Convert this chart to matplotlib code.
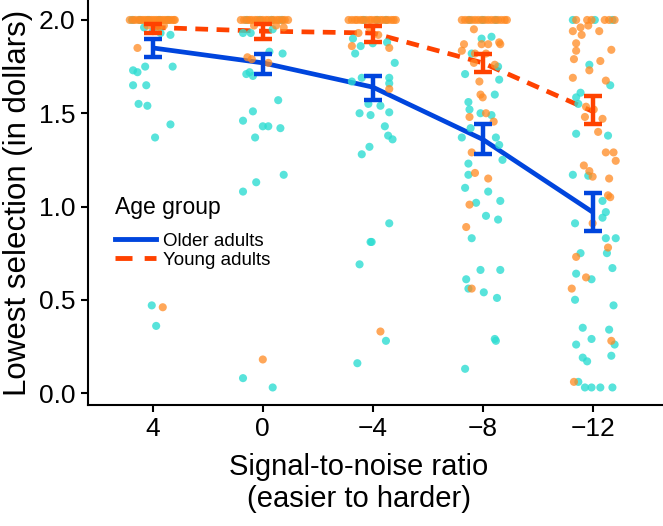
import matplotlib
matplotlib.use("Agg")
from matplotlib import pyplot as plt
from matplotlib.lines import Line2D
import numpy as np

plt.rcParams['font.family'] = ['Liberation Sans', 'DejaVu Sans']

snr_labels = ['4', '0', '\u22124', '\u22128', '\u221212']

# condition means and 95% interval ends
older_mean = [1.85, 1.77, 1.64, 1.36, 0.97]
older_lo = [1.80, 1.71, 1.57, 1.28, 0.87]
older_hi = [1.90, 1.82, 1.70, 1.44, 1.07]
young_mean = [1.96, 1.94, 1.93, 1.77, 1.51]
young_lo = [1.93, 1.90, 1.88, 1.72, 1.44]
young_hi = [1.98, 1.98, 1.97, 1.82, 1.59]

# individual participants: (jitter offset, value)
older_4 = [(-0.18, 1.73), (-0.14, 1.72), (-0.07, 1.75), (0.18, 1.75), (-0.18, 1.65),
           (-0.06, 1.65), (-0.13, 1.55), (-0.05, 1.54), (0.16, 1.44), (0.02, 1.37),
           (-0.01, 0.47), (0.03, 0.36), (-0.08, 1.96), (0.0, 1.94), (0.07, 1.93),
           (0.16, 1.92), (-0.19, 2.0), (-0.12, 2.0), (-0.04, 2.0), (0.06, 2.0), (0.14, 2.0)]
young_4 = [(-0.14, 1.85), (0.09, 0.46), (-0.05, 1.97), (0.05, 1.96), (0.10, 1.97),
           (-0.21, 2.0), (-0.18, 2.0), (-0.16, 2.0), (-0.13, 2.0), (-0.11, 2.0), (-0.09, 2.0),
           (-0.07, 2.0), (-0.05, 2.0), (-0.03, 2.0), (-0.01, 2.0), (0.01, 2.0), (0.03, 2.0),
           (0.05, 2.0), (0.07, 2.0), (0.09, 2.0), (0.11, 2.0), (0.13, 2.0), (0.15, 2.0),
           (0.17, 2.0), (0.19, 2.0), (0.20, 2.0)]

older_0 = [(-0.18, 1.93), (-0.11, 1.93), (0.09, 1.95), (0.06, 1.83), (0.18, 1.82),
           (-0.15, 1.71), (-0.12, 1.72), (-0.09, 1.70), (0.14, 1.57), (-0.09, 1.51),
           (-0.18, 1.46), (0.0, 1.43), (0.05, 1.43), (0.16, 1.42), (-0.07, 1.37),
           (0.19, 1.17), (-0.06, 1.13), (-0.18, 1.08), (-0.18, 0.08), (0.09, 0.03),
           (-0.15, 2.0), (-0.03, 2.0), (0.08, 2.0), (0.17, 2.0)]
young_0 = [(-0.14, 1.80), (-0.10, 1.79), (0.05, 1.77), (0.0, 0.18), (-0.08, 1.97),
           (0.12, 1.97), (0.19, 1.96),
           (-0.20, 2.0), (-0.17, 2.0), (-0.14, 2.0), (-0.12, 2.0), (-0.10, 2.0), (-0.07, 2.0),
           (-0.05, 2.0), (-0.02, 2.0), (0.0, 2.0), (0.03, 2.0), (0.05, 2.0), (0.08, 2.0),
           (0.10, 2.0), (0.13, 2.0), (0.15, 2.0), (0.18, 2.0), (0.20, 2.0), (0.23, 2.0)]

older_m4 = [(-0.18, 1.90), (-0.11, 1.86), (-0.16, 1.82), (0.0, 1.875), (0.13, 1.88),
            (0.20, 1.77), (-0.19, 1.67), (-0.10, 1.69), (0.15, 1.69), (0.15, 1.66),
            (-0.04, 1.55), (0.07, 1.54), (-0.12, 1.50), (-0.02, 1.49), (0.15, 1.505),
            (0.11, 1.43), (0.14, 1.38), (0.18, 1.36), (-0.03, 1.32), (-0.10, 1.28),
            (0.15, 0.91), (-0.02, 0.81), (-0.01, 0.81), (-0.12, 0.69), (0.12, 0.28),
            (-0.14, 0.16), (-0.08, 2.0), (0.04, 2.0), (0.12, 2.0)]
young_m4 = [(-0.19, 1.86), (0.15, 1.85), (0.15, 1.63), (0.07, 0.33), (-0.13, 1.93),
            (0.05, 1.92), (-0.03, 1.96),
            (-0.22, 2.0), (-0.19, 2.0), (-0.16, 2.0), (-0.14, 2.0), (-0.11, 2.0), (-0.09, 2.0),
            (-0.06, 2.0), (-0.03, 2.0), (-0.01, 2.0), (0.02, 2.0), (0.04, 2.0), (0.07, 2.0),
            (0.09, 2.0), (0.12, 2.0), (0.14, 2.0), (0.17, 2.0), (0.19, 2.0), (0.21, 2.0)]

older_m8 = [(-0.01, 1.90), (0.08, 1.91), (-0.10, 1.82), (-0.16, 1.71), (0.14, 1.75),
            (0.15, 1.68), (0.11, 1.60), (-0.13, 1.56), (-0.12, 1.52), (-0.02, 1.50),
            (0.08, 1.49), (-0.11, 1.42), (-0.19, 1.37), (0.12, 1.37), (0.15, 1.33),
            (0.18, 1.25), (-0.13, 1.23), (-0.13, 1.17), (-0.16, 1.10), (0.05, 1.08),
            (-0.06, 1.02), (0.16, 1.03), (0.03, 0.95), (0.14, 0.93), (-0.10, 0.83),
            (-0.02, 0.66), (0.16, 0.66), (-0.15, 0.61), (-0.13, 0.56), (0.01, 0.54),
            (0.13, 0.51), (0.11, 0.29), (0.12, 0.28), (-0.16, 0.13),
            (-0.12, 2.0), (0.0, 2.0), (0.12, 2.0)]
young_m8 = [(-0.08, 1.95), (-0.17, 1.87), (-0.19, 1.835), (-0.01, 1.87), (0.05, 1.87),
            (0.15, 1.88), (0.16, 1.87), (-0.07, 1.82), (0.03, 1.82), (-0.08, 1.77),
            (0.11, 1.76), (-0.03, 1.67), (-0.02, 1.60), (0.0, 1.585), (0.03, 1.50),
            (0.10, 1.455), (-0.12, 1.48), (-0.10, 1.29), (-0.07, 1.18), (0.05, 1.15),
            (-0.12, 1.01), (-0.15, 0.89), (-0.10, 0.56),
            (-0.19, 2.0), (-0.16, 2.0), (-0.13, 2.0), (-0.10, 2.0), (-0.07, 2.0), (-0.04, 2.0),
            (-0.01, 2.0), (0.02, 2.0), (0.05, 2.0), (0.08, 2.0), (0.11, 2.0), (0.14, 2.0),
            (0.17, 2.0), (0.20, 2.0), (0.22, 2.0)]

older_m12 = [(-0.03, 1.76), (0.16, 1.65), (-0.11, 1.61), (-0.15, 1.585), (-0.13, 1.55),
             (-0.15, 1.39), (0.14, 1.38), (-0.04, 1.165), (-0.18, 1.17), (0.09, 1.03),
             (0.12, 0.97), (0.09, 0.94), (-0.16, 0.91), (0.12, 0.83), (0.21, 0.83),
             (0.13, 0.75), (-0.11, 0.75), (0.18, 0.67), (-0.15, 0.64), (-0.01, 0.61),
             (-0.16, 0.50), (0.19, 0.47), (-0.09, 0.35), (0.15, 0.34), (-0.01, 0.29),
             (-0.15, 0.26), (0.20, 0.26), (-0.09, 0.19), (-0.05, 0.17), (0.17, 0.20),
             (-0.13, 0.06), (-0.07, 0.03), (-0.01, 0.03), (0.07, 0.03), (0.18, 0.03),
             (-0.18, 2.0), (0.02, 2.0), (0.18, 2.0)]
young_m12 = [(-0.11, 1.96), (-0.04, 1.97), (-0.18, 1.94), (0.06, 1.94), (-0.10, 1.92),
             (-0.15, 1.875), (-0.15, 1.835), (-0.17, 1.79), (0.17, 1.84), (-0.03, 1.73),
             (0.07, 1.78), (-0.18, 1.69), (0.12, 1.675), (-0.06, 1.535), (0.01, 1.52),
             (-0.07, 1.48), (0.09, 1.47), (0.05, 1.40), (0.12, 1.29), (0.19, 1.29),
             (0.21, 1.245), (-0.08, 1.22), (-0.03, 1.19), (0.0, 1.16), (0.15, 1.15),
             (0.14, 1.06), (0.16, 1.05), (0.0, 0.91), (0.14, 0.78), (-0.15, 0.73),
             (-0.06, 0.62), (-0.19, 0.56), (0.17, 0.28), (-0.17, 0.06),
             (-0.15, 2.0), (-0.05, 2.0), (-0.01, 2.0), (0.11, 2.0), (0.15, 2.0), (0.20, 2.0)]

older_pts = [older_4, older_0, older_m4, older_m8, older_m12]
young_pts = [young_4, young_0, young_m4, young_m8, young_m12]

cyan = '#2EDDD2'
orange = '#FF8A22'
blue = '#0045DD'
red = '#FF4200'

fig = plt.figure(figsize=(6.63, 5.26), dpi=100)
ax = fig.add_axes([88 / 663, 121 / 526, 575 / 663, 405 / 526])

pos = np.arange(1, 6)

for i in range(5):
    d = np.array(older_pts[i])
    ax.scatter(pos[i] + d[:, 0], d[:, 1], s=34, color=cyan, alpha=0.8,
               edgecolors='none', zorder=3)
    d = np.array(young_pts[i])
    ax.scatter(pos[i] + d[:, 0], d[:, 1], s=34, color=orange, alpha=0.75,
               edgecolors='none', zorder=3)

ax.plot(pos, older_mean, color=blue, lw=3.4, zorder=2, solid_capstyle='butt')
ax.plot(pos, young_mean, color=red, lw=3.4, ls=(0, (2.7, 1.8)), zorder=2)

om = np.array(older_mean)
ym = np.array(young_mean)
ax.errorbar(pos, om, yerr=[om - np.array(older_lo), np.array(older_hi) - om],
            fmt='none', ecolor=blue, elinewidth=3.2, capsize=6.2, capthick=3.2, zorder=4)
ax.errorbar(pos, ym, yerr=[ym - np.array(young_lo), np.array(young_hi) - ym],
            fmt='none', ecolor=red, elinewidth=3.2, capsize=6.2, capthick=3.2, zorder=4)

ax.set_xlim(0.41, 5.64)
ax.set_ylim(-0.064, 2.107)
ax.set_xticks(pos)
ax.set_xticklabels(snr_labels)
ax.set_yticks([0.0, 0.5, 1.0, 1.5, 2.0])
ax.set_yticklabels(['0.0', '0.5', '1.0', '1.5', '2.0'])
ax.tick_params(labelsize=19, width=1.5, length=5, color='black', labelcolor='black', pad=4)
for s in ['top', 'right']:
    ax.spines[s].set_visible(False)
for s in ['left', 'bottom']:
    ax.spines[s].set_linewidth(1.5)

ax.set_ylabel('Lowest selection (in dollars)', fontsize=22.5, labelpad=4)
fig.text(359 / 663, 1 - 483 / 526, 'Signal-to-noise ratio\n(easier to harder)',
         ha='center', va='center', fontsize=21, linespacing=1.15)

handles = [Line2D([], [], color=blue, lw=3.5),
           Line2D([], [], color=red, lw=3.5, ls=(0, (3.5, 2.5)))]
leg = ax.legend(handles, ['Older adults', 'Young adults'], title='Age group',
                loc='upper left', bbox_to_anchor=(27 / 575, 1 - 196 / 405),
                frameon=False, fontsize=13.5, title_fontsize=16.5,
                handlelength=2.2, handletextpad=0.35, labelspacing=0.1,
                borderaxespad=0, borderpad=0)
leg._legend_box.align = 'left'
leg._legend_box.sep = 10

fig.savefig('out.png', dpi=100)
